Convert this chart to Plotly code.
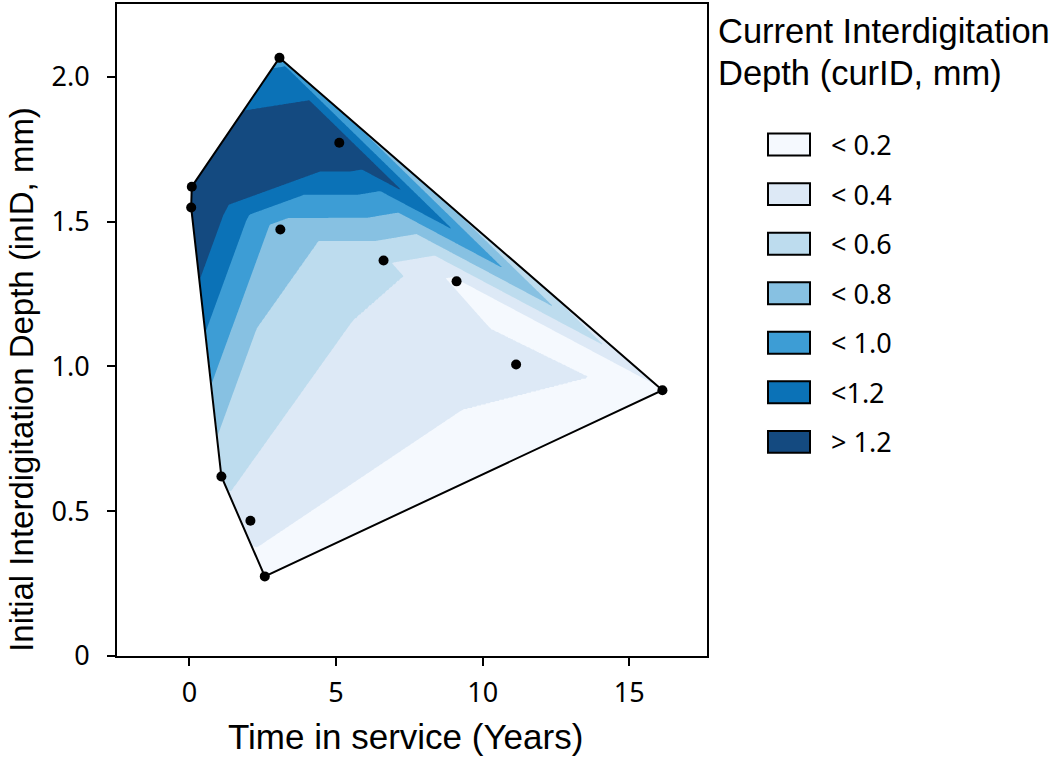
import numpy as np
import plotly.graph_objects as go

# ---------------- data ----------------
time_years = [3.07, 5.11, 0.08, 0.06, 3.10, 6.62, 9.11, 11.14, 16.13, 1.09, 2.08, 2.57]
initial_depth = [2.066, 1.773, 1.621, 1.549, 1.473, 1.366, 1.294, 1.007, 0.918, 0.620, 0.467, 0.275]
current_depth = [0.95, 1.45, 1.56, 1.48, 0.70, 0.43, 0.16, 0.23, 0.17, 0.45, 0.30, 0.09]

band_labels = ["< 0.2", "< 0.4", "< 0.6", "< 0.8", "< 1.0", "<1.2", "> 1.2"]
band_colors = ["#f5f9fe", "#dde9f6", "#bddcee", "#87c1e2", "#3d9dd5", "#0b72b7", "#144a80"]
level_start, level_end, level_size = 0.0, 1.2, 0.2

x_tick_vals = [0, 5, 10, 15]
y_tick_vals = [0, 0.5, 1.0, 1.5, 2.0]
y_tick_text = ["0", "0.5", "1.0", "1.5", "2.0"]

x_title = "Time in service (Years)"
y_title = "Initial Interdigitation Depth (inID, mm)"
legend_title = ["Current Interdigitation", "Depth (curID, mm)"]

# ---------------- triangulation (Bowyer-Watson) ----------------
px = np.array(time_years, float)
py = np.array(initial_depth, float)
pz = np.array(current_depth, float)

u = (px - px.min()) / (px.max() - px.min())
v = (py - py.min()) / (py.max() - py.min())
P = [(float(a), float(b)) for a, b in zip(u, v)]
S = 1e4
P_ext = P + [(-S, -S), (3 * S, -S), (-S, 3 * S)]
n = len(P)


def in_circle(t, p):
    a, b, c = P_ext[t[0]], P_ext[t[1]], P_ext[t[2]]
    ax, ay = a[0] - p[0], a[1] - p[1]
    bx, by = b[0] - p[0], b[1] - p[1]
    cx, cy = c[0] - p[0], c[1] - p[1]
    det = ((ax * ax + ay * ay) * (bx * cy - cx * by)
           - (bx * bx + by * by) * (ax * cy - cx * ay)
           + (cx * cx + cy * cy) * (ax * by - bx * ay))
    orient = (b[0] - a[0]) * (c[1] - a[1]) - (b[1] - a[1]) * (c[0] - a[0])
    return det * orient > 0


tris = [(n, n + 1, n + 2)]
for i in range(n):
    p = P_ext[i]
    bad = [t for t in tris if in_circle(t, p)]
    edges = {}
    for t in bad:
        for e in ((t[0], t[1]), (t[1], t[2]), (t[2], t[0])):
            k = tuple(sorted(e))
            edges[k] = edges.get(k, 0) + 1
    tris = [t for t in tris if t not in bad]
    for e, cnt in edges.items():
        if cnt == 1:
            tris.append((e[0], e[1], i))
tris = [t for t in tris if max(t) < n]

# ---------------- linear interpolation on a grid ----------------
gx = np.linspace(-0.1, 16.3, 500)
gy = np.linspace(0.2, 2.13, 480)
GX, GY = np.meshgrid(gx, gy)
Z = np.full(GX.shape, -1.0)
for (i, j, k) in tris:
    xi, yi, xj, yj, xk, yk = px[i], py[i], px[j], py[j], px[k], py[k]
    det = (yj - yk) * (xi - xk) + (xk - xj) * (yi - yk)
    l1 = ((yj - yk) * (GX - xk) + (xk - xj) * (GY - yk)) / det
    l2 = ((yk - yi) * (GX - xk) + (xi - xk) * (GY - yk)) / det
    l3 = 1 - l1 - l2
    m = (l1 >= -1e-9) & (l2 >= -1e-9) & (l3 >= -1e-9)
    Z[m] = (l1 * pz[i] + l2 * pz[j] + l3 * pz[k])[m]
Z = np.round(Z, 3)

# ---------------- convex hull (monotone chain) ----------------
order = sorted(range(n), key=lambda i: (px[i], py[i]))


def cross(o, a, b):
    return (px[a] - px[o]) * (py[b] - py[o]) - (py[a] - py[o]) * (px[b] - px[o])


lower, upper = [], []
for i in order:
    while len(lower) >= 2 and cross(lower[-2], lower[-1], i) <= 0:
        lower.pop()
    lower.append(i)
for i in reversed(order):
    while len(upper) >= 2 and cross(upper[-2], upper[-1], i) <= 0:
        upper.pop()
    upper.append(i)
hull = lower[:-1] + upper[:-1]
hull.append(hull[0])

# ---------------- figure ----------------
fill_scale = [[0.0, "#ffffff"]] + [[(i + 1) / 7, c] for i, c in enumerate(band_colors)]

fig = go.Figure()
fig.add_trace(go.Contour(
    x=gx, y=gy, z=Z,
    autocontour=False,
    contours=dict(start=level_start, end=level_end, size=level_size,
                  coloring="fill", showlines=False),
    colorscale=fill_scale, showscale=False, line=dict(width=0),
    hoverinfo="skip", showlegend=False,
))
fig.add_trace(go.Scatter(
    x=[px[i] for i in hull], y=[py[i] for i in hull], mode="lines",
    line=dict(color="black", width=2), hoverinfo="skip", showlegend=False,
))
fig.add_trace(go.Scatter(
    x=time_years, y=initial_depth, mode="markers",
    marker=dict(color="black", size=10), showlegend=False,
))

L, R, T, B = 117, 343, 2, 103
W, H = 1050, 759
pw, ph = W - L - R, H - T - B


def xp(pix):
    return (pix - L) / pw


def yp(pix):
    return (H - B - pix) / ph


shapes = []
annotations = []
for i, (lab, col) in enumerate(zip(band_labels, band_colors)):
    top = 132 + 49.7 * i
    shapes.append(dict(type="rect", xref="paper", yref="paper",
                       x0=xp(768), x1=xp(810), y0=yp(top + 22), y1=yp(top),
                       fillcolor=col, line=dict(color="black", width=2)))
    annotations.append(dict(text=lab, xref="paper", yref="paper",
                            x=xp(829), y=yp(top + 11), xanchor="left", yanchor="middle",
                            showarrow=False,
                            font=dict(family="Noto Sans", size=27, color="black")))
for k, (line, cy) in enumerate(zip(legend_title, [29, 71])):
    annotations.append(dict(text=line, xref="paper", yref="paper",
                            x=xp(716), y=yp(cy), xanchor="left", yanchor="middle",
                            showarrow=False,
                            font=dict(family="Liberation Sans", size=34.5, color="black")))
annotations.append(dict(text=x_title, xref="paper", yref="paper",
                        x=xp(405), y=yp(737), xanchor="center", yanchor="middle",
                        showarrow=False,
                        font=dict(family="Liberation Sans", size=35, color="black")))
annotations.append(dict(text=y_title, xref="paper", yref="paper",
                        x=xp(22), y=yp(379), xanchor="center", yanchor="middle",
                        textangle=-90, showarrow=False,
                        font=dict(family="Liberation Sans", size=33, color="black")))

axis_common = dict(showline=True, linecolor="black", linewidth=2, mirror=True,
                   ticks="outside", ticklen=8, tickwidth=2, tickcolor="black",
                   showgrid=False, zeroline=False,
                   tickfont=dict(family="Noto Sans", size=27, color="black"))
fig.update_xaxes(range=[-2.47, 17.65], tickvals=x_tick_vals, ticklabelstandoff=4, **axis_common)
fig.update_yaxes(range=[0, 2.252], tickvals=y_tick_vals, ticktext=y_tick_text,
                 ticklabelstandoff=12, **axis_common)

fig.update_layout(
    width=W, height=H,
    margin=dict(l=L, r=R, t=T, b=B),
    paper_bgcolor="white", plot_bgcolor="white",
    shapes=shapes, annotations=annotations, showlegend=False,
)
fig.write_html("out.html", config={"displayModeBar": False},
               post_script="document.body.style.margin='0px';document.body.style.overflow='hidden';")
